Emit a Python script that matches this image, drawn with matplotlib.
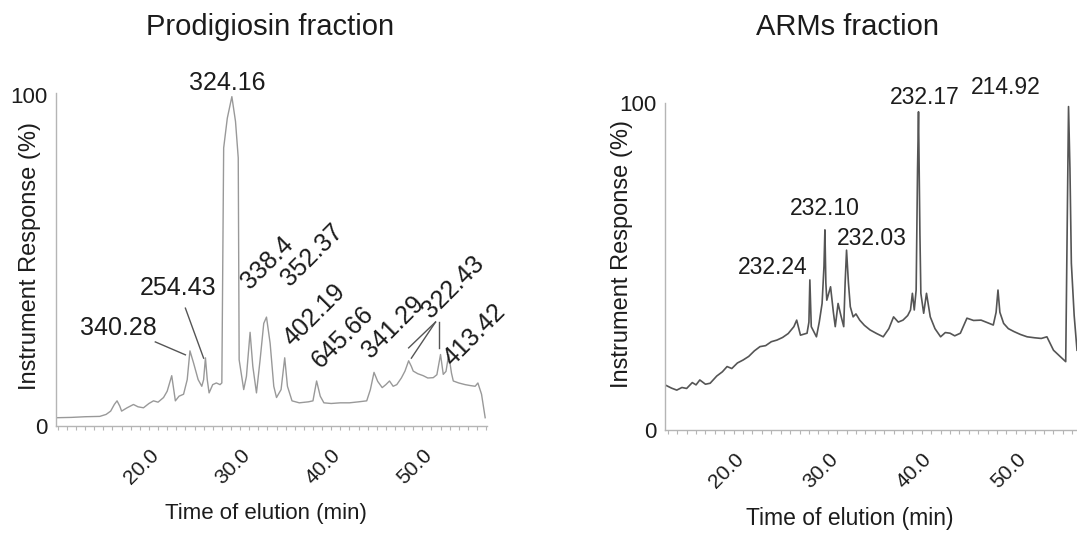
import matplotlib.pyplot as plt
from matplotlib.ticker import MultipleLocator, FixedLocator
from matplotlib.transforms import ScaledTranslation

plt.rcParams['font.family'] = ['Liberation Sans', 'DejaVu Sans']

W, H = 1077, 537

# Prodigiosin fraction chromatogram (time in min, response in %)
prod_time = [8.8, 10.5, 12.0, 13.6, 14.3, 14.8, 15.2, 15.5, 15.8, 16.0,
             16.6, 17.3, 17.8, 18.4, 19.0, 19.5, 20.0, 20.6, 21.0, 21.5,
             21.9, 22.3, 22.8, 23.2, 23.5, 23.9, 24.4, 24.8, 25.0, 25.2,
             25.4, 25.6, 26.0, 26.4, 26.8, 27.0, 27.2, 27.6, 28.1, 28.5,
             28.8, 28.9, 29.4, 29.7, 30.1, 30.4, 30.8, 31.2, 31.6, 31.9,
             32.3, 32.7, 33.0, 33.5, 33.9, 34.2, 34.7, 35.5, 36.5, 37.0,
             37.4, 37.8, 38.2, 39.0, 40.0, 41.0, 42.0, 42.9, 43.3, 43.7,
             44.1, 44.6, 45.0, 45.4, 45.8, 46.2, 46.7, 47.1, 47.5, 47.8,
             48.0, 48.5, 49.1, 49.6, 50.2, 50.6, 51.0, 51.3, 51.6, 51.9,
             52.2, 52.4, 53.0, 53.7, 54.3, 54.8, 55.1, 55.5, 55.9]
prod_resp = [2.5, 2.6, 2.8, 2.9, 3.5, 4.5, 6.5, 7.6, 6.0, 4.5,
             5.5, 6.5, 5.8, 5.5, 6.8, 7.6, 7.2, 8.6, 10.5, 15.2,
             7.6, 9.0, 9.6, 14.0, 22.7, 19.0, 14.0, 12.0, 14.0, 20.6,
             14.0, 10.0, 12.5, 13.0, 12.5, 13.0, 84.0, 93.0, 99.5, 92.0,
             81.0, 20.0, 11.0, 15.0, 28.3, 18.0, 10.0, 20.0, 31.0, 32.9,
             25.0, 12.0, 8.6, 11.0, 20.6, 12.0, 7.6, 7.0, 7.3, 7.6,
             13.6, 9.0, 7.0, 6.8, 7.0, 7.0, 7.3, 7.6, 11.0, 16.2,
             13.5, 11.6, 12.5, 13.6, 12.0, 12.5, 14.5, 16.6, 19.7, 18.0,
             16.6, 15.8, 15.2, 14.5, 14.6, 15.5, 21.6, 15.6, 16.5, 21.6,
             16.0, 13.6, 13.0, 12.5, 12.2, 12.0, 13.0, 9.6, 2.5]

# ARMs fraction chromatogram
arms_time = [11.7, 12.4, 12.95, 13.5, 14.0, 14.6, 15.0, 15.4, 16.0, 16.5,
             17.2, 17.8, 18.3, 18.8, 19.4, 20.0, 20.6, 21.2, 21.8, 22.4,
             23.0, 23.6, 24.2, 24.8, 25.4, 25.7, 26.1, 26.8, 27.0, 27.1,
             27.25, 27.8, 28.1, 28.4, 28.6, 28.7, 28.8, 28.9, 29.3, 29.6,
             29.8, 30.1, 30.4, 30.7, 30.85, 31.0, 31.2, 31.4, 31.7, 32.0,
             32.4, 32.9, 33.5, 34.2, 34.9, 35.5, 36.0, 36.5, 37.0, 37.5,
             37.8, 38.0, 38.2, 38.4, 38.55, 38.65, 38.8, 38.9, 39.2, 39.5,
             39.9, 40.4, 41.0, 41.5, 42.0, 42.5, 43.1, 43.8, 44.5, 45.3,
             46.0, 46.6, 46.9, 47.1, 47.3, 47.7, 48.2, 48.8, 49.5, 50.2,
             51.0, 51.7, 52.3, 53.0, 53.7, 54.3, 54.45, 54.6, 54.75, 54.9,
             55.2, 55.5]
arms_resp = [13.8, 12.8, 12.2, 13.0, 12.7, 14.5, 13.8, 15.3, 14.0, 14.3,
             16.5, 17.8, 19.4, 18.8, 20.5, 21.4, 22.5, 24.2, 25.5, 25.8,
             27.0, 27.5, 28.3, 29.5, 31.6, 33.6, 29.0, 29.6, 33.0, 45.9,
             31.6, 28.5, 33.0, 38.7, 50.0, 61.2, 45.0, 39.7, 43.8, 36.0,
             31.6, 38.7, 35.0, 31.6, 45.0, 55.0, 45.0, 37.7, 34.6, 35.5,
             33.6, 32.0, 30.6, 29.5, 28.5, 31.0, 34.6, 33.0, 33.6, 35.0,
             36.7, 41.8, 36.7, 42.8, 80.0, 97.3, 60.0, 41.8, 35.7, 41.8,
             34.6, 31.0, 28.5, 29.8, 29.6, 28.8, 29.6, 34.2, 33.5, 33.6,
             32.8, 32.1, 36.0, 42.8, 36.0, 32.6, 31.0, 30.1, 29.2, 28.5,
             28.2, 28.0, 28.5, 24.4, 22.5, 20.9, 60.0, 98.9, 80.0, 51.0,
             35.0, 24.4]

# peak labels: text, x, y, rotation
prod_labels = ['324.16', '340.28', '254.43', '338.4', '352.37', '402.19',
               '645.66', '341.29', '322.43', '413.42']
prod_label_x = [27.6, 15.7, 22.2, 32.0, 36.9, 37.2, 40.3, 45.8, 52.4, 54.7]
prod_label_y = [103.6, 29.6, 41.7, 49.2, 51.7, 33.5, 26.9, 29.9, 42.0, 27.5]
prod_label_rot = [0, 0, 0, 45, 45, 45, 45, 45, 45, 45]

# leader lines (x0, y0, x1, y1)
prod_leaders = [(19.7, 25.4, 23.0, 21.5),
                (23.0, 35.6, 25.0, 20.5),
                (50.45, 31.4, 47.5, 23.6),
                (50.45, 31.4, 47.8, 20.5),
                (50.8, 31.4, 50.8, 23.6)]

arms_labels = ['232.24', '232.10', '232.03', '232.17', '214.92']
arms_label_x = [23.1, 28.7, 33.7, 39.3, 47.9]
arms_label_y = [49.8, 67.6, 58.7, 101.8, 104.6]

x_ticks = [20, 30, 40, 50]
x_tick_labels = ['20.0', '30.0', '40.0', '50.0']

txt = '#1c1c1c'
axis_col = '#b5b5b5'


def px_box(left, right, top, bottom):
    return [left / W, 1 - bottom / H, (right - left) / W, (bottom - top) / H]


def style(ax, xlim, ylim):
    ax.set_xlim(*xlim)
    ax.set_ylim(*ylim)
    for s in ['top', 'right']:
        ax.spines[s].set_visible(False)
    for s in ['left', 'bottom']:
        ax.spines[s].set_color(axis_col)
        ax.spines[s].set_linewidth(1.0)
    ax.xaxis.set_major_locator(FixedLocator(x_ticks))
    ax.xaxis.set_minor_locator(MultipleLocator(1))
    ax.set_xticklabels(x_tick_labels, rotation=45, ha='right',
                       rotation_mode='anchor', fontsize=15, color=txt)
    ax.tick_params(axis='x', which='both', direction='out', length=3,
                   width=0.8, color=axis_col, pad=7)
    # nudge the slanted labels so that they end at the tick
    shift = ScaledTranslation(-9 / 100, -6 / 100, fig.dpi_scale_trans)
    for lab in ax.get_xticklabels():
        lab.set_transform(lab.get_transform() + shift)
    ax.set_yticks([0, 100])
    ax.set_yticklabels(['0', '100'], fontsize=16, color=txt)
    ax.tick_params(axis='y', length=0, pad=6)


fig = plt.figure(figsize=(W / 100, H / 100), dpi=100)

# left panel
ax1 = fig.add_axes(px_box(56, 487, 93, 426))
ax1.plot(prod_time, prod_resp, color='#999999', lw=1.0)
style(ax1, (8.8, 56.1), (0, 100.6))
for lab, x, y, r in zip(prod_labels, prod_label_x, prod_label_y, prod_label_rot):
    ax1.text(x, y, lab, rotation=r, ha='center', va='center', fontsize=18,
             color=txt, clip_on=False, rotation_mode='anchor')
for x0, y0, x1, y1 in prod_leaders:
    ax1.plot([x0, x1], [y0, y1], color='#555555', lw=1.0, clip_on=False)

# right panel
ax2 = fig.add_axes(px_box(665, 1077, 103, 430))
ax2.plot(arms_time, arms_resp, color='#555555', lw=1.2)
style(ax2, (11.7, 55.5), (0, 100))
for lab, x, y in zip(arms_labels, arms_label_x, arms_label_y):
    ax2.text(x, y, lab, ha='center', va='center', fontsize=16.5,
             color=txt, clip_on=False)

# titles and axis labels
fig.text(270 / W, 1 - 27 / H, 'Prodigiosin fraction', ha='center',
         va='center', fontsize=21, color=txt)
fig.text(848 / W, 1 - 27 / H, 'ARMs fraction', ha='center',
         va='center', fontsize=21, color=txt)
fig.text(30 / W, 1 - 256 / H, 'Instrument Response (%)', rotation=90,
         ha='center', va='center', fontsize=17, color=txt)
fig.text(622 / W, 1 - 254 / H, 'Instrument Response (%)', rotation=90,
         ha='center', va='center', fontsize=17, color=txt)
fig.text(266 / W, 1 - 513 / H, 'Time of elution (min)', ha='center',
         va='center', fontsize=16, color=txt)
fig.text(850 / W, 1 - 518 / H, 'Time of elution (min)', ha='center',
         va='center', fontsize=16.5, color=txt)

fig.savefig('out.png', dpi=100)
